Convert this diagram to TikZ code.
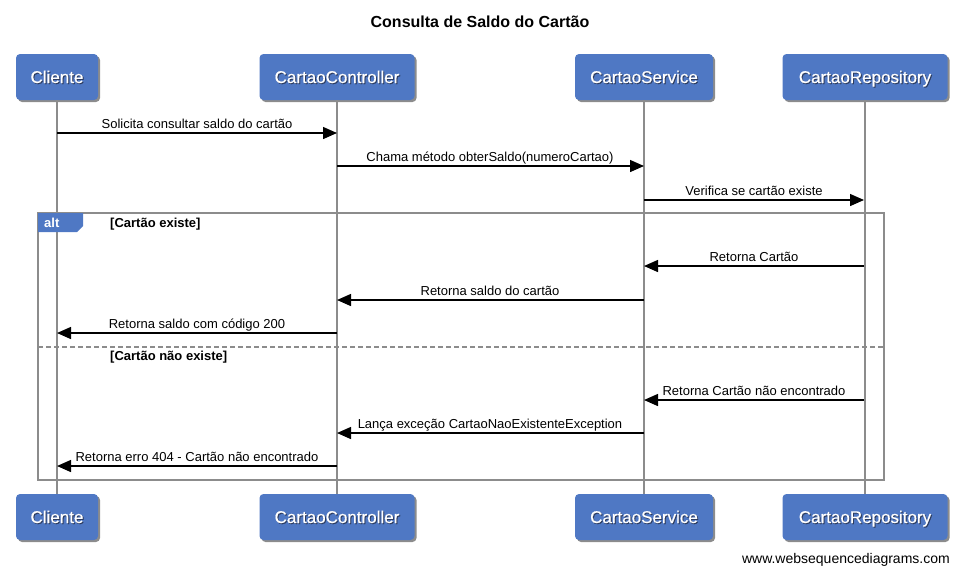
\documentclass[tikz,border=0pt]{standalone}
\usepackage{fontspec}
\setmainfont{Liberation Sans}
\newfontfamily\partfont[FakeBold=0.6]{Liberation Sans}
\usetikzlibrary{arrows.meta,shadows}
\definecolor{partblue}{RGB}{79,120,196}
\definecolor{lifegray}{RGB}{140,140,140}
\definecolor{txtshadow}{RGB}{45,60,95}
\newcommand\shtext[1]{\rlap{\raisebox{-1pt}{\hspace{1pt}\textcolor{txtshadow}{#1}}}#1}
\begin{document}
\begin{tikzpicture}[x=1pt,y=-1pt,
  part/.style={draw=none,fill=partblue,rounded corners=4pt,minimum height=46pt,
    text=white,font=\partfont\fontsize{17}{20}\selectfont,text height=12pt,text depth=0pt,
    drop shadow={shadow xshift=2pt,shadow yshift=-2pt,opacity=0.45,fill=black}},
  life/.style={draw=lifegray,line width=1.6pt},
  msg/.style={draw=black,line width=1.4pt,-{Triangle[length=14pt,width=12pt]}},
  lbl/.style={font=\fontsize{13}{15}\selectfont,anchor=base,inner sep=0pt},
  guard/.style={font=\bfseries\fontsize{13}{15}\selectfont,anchor=west,inner sep=0pt},
  frame/.style={draw=lifegray,line width=1.6pt}]
\useasboundingbox (0,0) rectangle (961,574);
\node[font=\bfseries\fontsize{16}{19}\selectfont] (title) at (480,22) {Consulta de Saldo do Cartão};
% participants
\node[part,minimum width=82pt] (c1) at (57,77) {\shtext{Cliente}};
\node[part,minimum width=155pt] (k1) at (337,77) {\shtext{CartaoController}};
\node[part,minimum width=138pt] (s1) at (644,77) {\shtext{CartaoService}};
\node[part,minimum width=165pt] (r1) at (865,77) {\shtext{CartaoRepository}};
\node[part,minimum width=82pt] (c2) at (57,517) {\shtext{Cliente}};
\node[part,minimum width=155pt] (k2) at (337,517) {\shtext{CartaoController}};
\node[part,minimum width=138pt] (s2) at (644,517) {\shtext{CartaoService}};
\node[part,minimum width=165pt] (r2) at (865,517) {\shtext{CartaoRepository}};
% lifelines
\draw[life] (c1.south) -- (c2.north);
\draw[life] (k1.south) -- (k2.north);
\draw[life] (s1.south) -- (s2.north);
\draw[life] (r1.south) -- (r2.north);
% alt frame
\draw[frame] (38,213) rectangle (884,480);
\draw[frame,dash pattern=on 5pt off 3pt,line width=1.4pt] (38,347) -- (884,347);
\fill[partblue] (38,213) -- (83,213) -- (83,226) -- (77,232) -- (38,232) -- cycle;
\node[font=\bfseries\fontsize{13}{15}\selectfont,text=white,anchor=west,inner sep=0pt] (alt) at (44,223) {alt};
\node[guard] (g1) at (110,224) {[Cartão existe]};
\node[guard] (g2) at (110,357) {[Cartão não existe]};
% coordinates for messages
\foreach \n/\y in {1/133,2/166,3/200,4/266,5/300,6/333,7/400,8/433,9/466}{
  \coordinate (c\n) at (57,\y);
  \coordinate (k\n) at (337,\y);
  \coordinate (s\n) at (644,\y);
  \coordinate (r\n) at (864,\y);
}
\draw[msg] (c1) -- (k1);
\node[lbl] (m1) at (197,128) {Solicita consultar saldo do cartão};
\draw[msg] (k2) -- (s2);
\node[lbl] (m2) at (490,161) {Chama método obterSaldo(numeroCartao)};
\draw[msg] (s3) -- (r3);
\node[lbl] (m3) at (754,195) {Verifica se cartão existe};
\draw[msg] (r4) -- (s4);
\node[lbl] (m4) at (754,261) {Retorna Cartão};
\draw[msg] (s5) -- (k5);
\node[lbl] (m5) at (490,295) {Retorna saldo do cartão};
\draw[msg] (k6) -- (c6);
\node[lbl] (m6) at (197,328) {Retorna saldo com código 200};
\draw[msg] (r7) -- (s7);
\node[lbl] (m7) at (754,395) {Retorna Cartão não encontrado};
\draw[msg] (s8) -- (k8);
\node[lbl] (m8) at (490,428) {Lança exceção CartaoNaoExistenteException};
\draw[msg] (k9) -- (c9);
\node[lbl] (m9) at (197,461) {Retorna erro 404 - Cartão não encontrado};
\node[font=\fontsize{14}{16}\selectfont,anchor=base east,inner sep=0pt] (wm) at (950,563) {www.websequencediagrams.com};
\end{tikzpicture}
\end{document}
